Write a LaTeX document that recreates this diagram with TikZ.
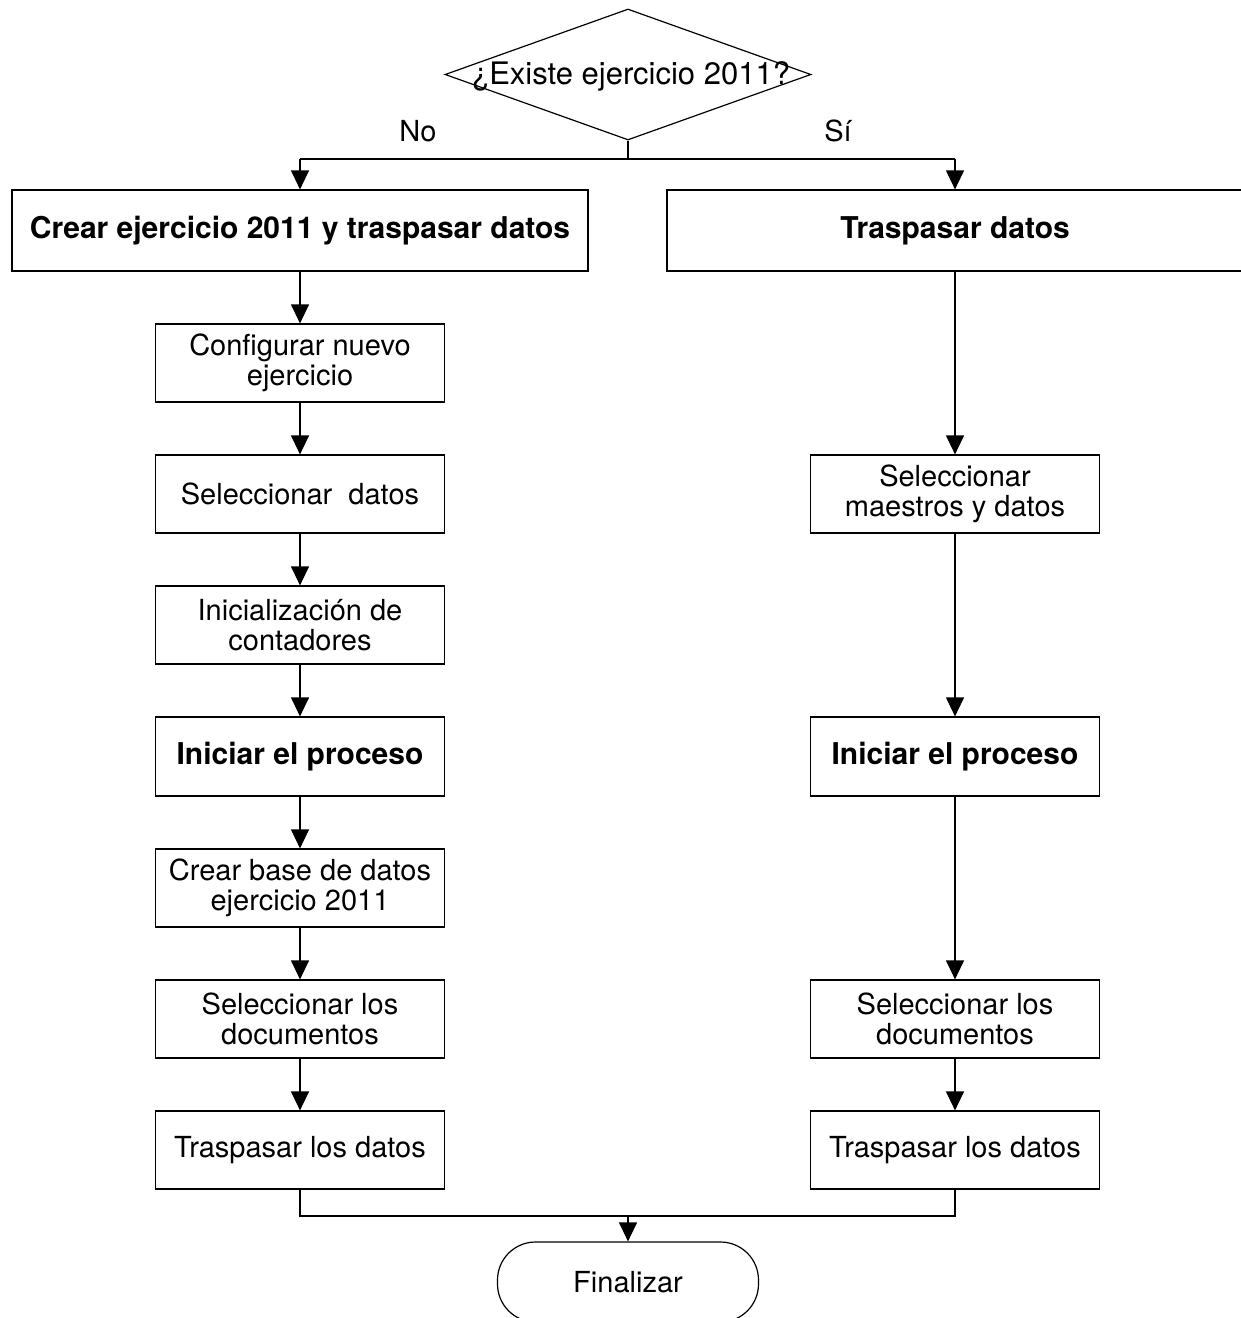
\documentclass[tikz,border=0pt]{standalone}
\usepackage{fontspec}
\setmainfont{TeX Gyre Heros}
\usetikzlibrary{arrows.meta,shapes.geometric}
\begin{document}
\begin{tikzpicture}[x=1pt,y=-1pt,
  every node/.style={font=\fontsize{29}{30}\selectfont},
  ln/.style={line width=1.2pt},
  box/.style={draw, ln, minimum width=289pt, minimum height=78pt, inner sep=0pt, align=center},
  bigbox/.style={box, minimum width=576pt, minimum height=81pt, font=\fontsize{30}{30}\selectfont\bfseries},
  boldbox/.style={box, minimum height=79pt, font=\fontsize{30}{30}\selectfont\bfseries},
  arr/.style={ln, -{Triangle[width=18pt,length=19pt]}},
  term/.style={draw, ln, rounded corners=38pt, minimum width=261pt, minimum height=80pt, inner sep=0pt}]
\path[use as bounding box] (0,0) rectangle (1241,1318);
\clip (0,0) rectangle (1241,1318);

% decision
\node[diamond, draw, ln, minimum width=366pt, minimum height=131pt, inner sep=0pt] (q) at (628,74.5) {};
\node[font=\fontsize{31}{32}\selectfont] (qt) at (631,76) {¿Existe ejercicio 2011?};
\coordinate (split) at (628,159);
\coordinate (sl) at (300,159);
\coordinate (sr) at (955,159);
\node (no) at (418,131) {No};
\node (si) at (838,131) {Sí};

% left column
\node[bigbox] (L0) at (300,230.5) {Crear ejercicio 2011 y traspasar datos};
\node[box] (L1) at (300,363) {Configurar nuevo\\ejercicio};
\node[box] (L2) at (300,494) {Seleccionar\ \ datos};
\node[box] (L3) at (300,625) {Inicialización de\\contadores};
\node[boldbox] (L4) at (300,756.5) {Iniciar el proceso};
\node[box] (L5) at (300,888) {Crear base de datos\\ejercicio 2011};
\node[box] (L6) at (300,1019) {Seleccionar los\\documentos};
\node[box] (L7) at (300,1150) {Traspasar los datos};

% right column
\node[bigbox] (R0) at (955,230.5) {Traspasar datos};
\node[box] (R1) at (955,494) {Seleccionar\\maestros y datos};
\node[boldbox] (R2) at (955,756.5) {Iniciar el proceso};
\node[box] (R3) at (955,1019) {Seleccionar los\\documentos};
\node[box] (R4) at (955,1150) {Traspasar los datos};

% end
\coordinate (ml) at (300,1216);
\coordinate (mr) at (955,1216);
\coordinate (mm) at (628,1216);
\node[term] (end) at (628,1282) {Finalizar};

% connectors
\draw[ln] (q.south) -- (split);
\draw[ln] (sl) -- (sr);
\draw[arr] (sl) -- (L0.north);
\draw[arr] (sr) -- (R0.north);
\draw[arr] (L0.south) -- (L1.north);
\draw[arr] (L1.south) -- (L2.north);
\draw[arr] (L2.south) -- (L3.north);
\draw[arr] (L3.south) -- (L4.north);
\draw[arr] (L4.south) -- (L5.north);
\draw[arr] (L5.south) -- (L6.north);
\draw[arr] (L6.south) -- (L7.north);
\draw[arr] (R0.south) -- (R1.north);
\draw[arr] (R1.south) -- (R2.north);
\draw[arr] (R2.south) -- (R3.north);
\draw[arr] (R3.south) -- (R4.north);
\draw[ln] (L7.south) -- (ml) -- (mr) -- (R4.south);
\draw[arr] (mm) -- (end.north);
\end{tikzpicture}
\end{document}
